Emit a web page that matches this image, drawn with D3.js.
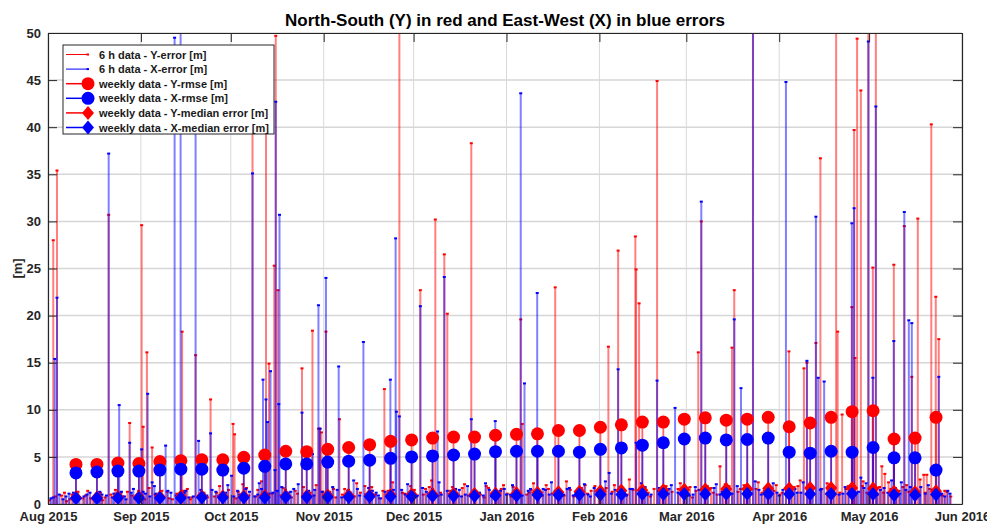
<!DOCTYPE html>
<html>
<head>
<meta charset="utf-8">
<script src="https://cdn.jsdelivr.net/npm/d3@7"></script>
<style>
body { margin: 0; background: #fff; }
text { font-family: "Liberation Sans", Arial, sans-serif; font-weight: bold; fill: #262626; }
</style>
</head>
<body>
<script>
var w = 987;
var h = 525;
var margin = {top: 33, right: 25, bottom: 21, left: 48};

// 6 h data, [days after 1 Aug 2015, error in m]
var yErr = [
  [1.75, 28.0], [3.0, 35.4], [20.25, 30.7], [27.25, 8.6], [31.25, 29.6], [31.75, 8.2], [33.0, 16.1],
  [34.75, 6.0], [44.75, 18.3], [49.25, 15.8], [54.25, 11.1], [61.75, 8.5], [62.25, 7.4], [68.25, 41],
  [72.75, 40], [73.75, 14.9], [75.5, 25.3], [76.0, 49.7], [76.75, 22.7], [84.75, 14.4], [88.25, 18.4],
  [90.25, 8.0], [90.75, 8.0], [91.25, 7.6], [92.75, 18.3], [97.25, 9.0], [112.25, 12.2], [117.25, 55],
  [124.25, 22.7], [129.25, 30.2], [132.25, 26.5], [133.25, 20.2], [141.25, 38.3], [157.75, 19.6],
  [158.25, 8.5], [169.25, 23.0], [187.0, 16.7], [190.25, 26.9], [196.0, 28.4], [196.25, 24.9],
  [197.25, 21.3], [203.25, 44.9], [217.0, 16.1], [218.0, 30.0], [224.25, 4.0], [228.25, 16.6],
  [229.0, 22.7], [235.25, 55], [247.25, 16.2], [252.25, 14.4], [253.25, 15.0], [256.25, 17.1],
  [257.75, 36.7], [263.0, 55], [263.5, 18.3], [265.0, 9.5], [268.25, 20.9], [269.0, 39.7],
  [269.25, 15.5], [270.0, 49.4], [271.25, 43.9], [273.75, 55], [275.25, 25.1], [276.25, 55],
  [278.25, 4.0], [279.25, 3.2], [282.25, 25.4], [285.75, 29.5], [288.25, 13.5], [290.25, 30.3],
  [292.25, 3.1], [293.25, 3.1], [294.75, 40.3], [296.25, 22.0], [297.25, 17.5],
  [0.5, 0.4], [4.5, 0.9], [6.25, 0.3], [8, 1.0], [11.5, 0.6], [13.25, 1.4], [15, 0.5], [17.5, 1.2],
  [19, 0.7], [22.5, 1.5], [25, 0.8], [26.5, 1.3], [29, 0.6], [33.75, 1.7], [36.5, 0.9], [38, 1.4],
  [41.5, 0.5], [43, 1.1], [46.5, 1.6], [48, 0.7], [52, 1.2], [55.5, 0.8], [57.25, 1.9], [59, 0.6],
  [63.5, 1.3], [65, 2.1], [67, 0.9], [70, 1.5], [71.25, 2.4], [74.75, 1.1], [78.5, 1.7], [80, 0.8],
  [82.5, 1.4], [86, 0.6], [87.5, 1.2], [89.5, 2.0], [94, 1.3], [96, 0.7], [99, 1.6], [101.5, 0.9],
  [103, 2.2], [106.5, 1.0], [108, 1.8], [110.5, 0.6], [113.5, 1.4], [115, 2.3], [119, 1.1], [121, 1.9],
  [123, 0.8], [126, 1.6], [128, 2.5], [131, 1.2], [135, 1.8], [137, 0.9], [139, 2.1], [143, 1.3],
  [145.5, 0.7], [147, 1.7], [150.5, 1.1], [152, 2.0], [154.5, 0.8], [156, 1.5], [160.5, 1.2], [162, 2.2],
  [165, 0.9], [167, 1.6], [171, 1.3], [173, 2.4], [175.5, 0.8], [178, 1.7], [180, 1.1], [182.5, 1.9],
  [185, 0.9], [189, 2.0], [192, 1.2], [194, 2.6], [199, 1.4], [201, 0.8], [205, 1.8], [207, 1.1],
  [211, 2.2], [213, 1.3], [215, 0.7], [220, 1.9], [222, 1.2], [226, 2.1], [231, 1.6], [233, 0.9],
  [237, 2.3], [239, 1.4], [241, 0.8], [243, 2.0], [245, 1.2], [249, 1.8], [251, 2.5], [255, 1.3],
  [260, 2.2], [262, 1.5], [267, 1.9], [272, 2.4], [274.5, 1.1], [277.5, 1.8], [280.5, 2.3], [284, 1.4],
  [286.5, 2.0], [289.5, 1.2], [291, 2.6], [295.5, 1.5], [298.5, 0.9], [300, 1.3],
  [2.5, 0.8], [5.5, 1.2], [7.25, 0.5], [10, 1.3], [12.5, 0.9], [14.25, 0.6], [16.25, 1.1], [18.25, 0.4],
  [21, 1.0], [23.5, 0.7], [24.25, 1.2], [28, 0.9], [30.25, 1.4], [32.25, 0.5], [35.75, 1.0], [37.25, 0.7],
  [39.75, 1.3], [40.5, 0.6], [44, 0.9], [45.25, 1.4], [47.5, 0.5], [50.75, 1.0], [53.25, 0.7], [56.25, 1.2],
  [58.25, 0.9], [60.25, 1.5], [62.75, 0.6], [64.25, 1.0], [66.25, 1.7], [69.25, 0.8], [72.25, 1.2],
  [77.75, 0.9], [79.25, 1.5], [81.25, 0.7], [83.25, 1.1], [85.25, 1.8], [87.25, 0.8], [91.75, 1.3],
  [93.25, 0.9], [95.25, 1.6], [98.25, 1.0], [100.25, 1.5], [102.25, 0.8], [104.25, 1.2], [105.75, 1.9],
  [109.25, 1.0], [111.75, 1.4], [114.75, 0.7], [118.25, 1.2], [120.25, 0.8], [122.25, 1.5], [125.25, 1.0],
  [127.25, 1.8], [130.25, 0.9], [134.25, 1.4], [136.25, 1.1], [138.25, 1.7], [140.25, 0.9], [142.25, 1.5],
  [144.25, 1.0], [146.25, 1.9], [148.25, 1.2], [149.75, 0.8], [151.25, 1.6], [153.25, 1.1], [155.25, 1.8],
  [159.75, 1.0], [161.25, 1.5], [163.75, 1.2], [166.25, 2.0], [168.25, 1.1], [170.25, 1.6], [172.25, 0.9],
  [174.25, 1.5], [177.25, 1.2], [179.25, 2.0], [181.25, 1.4], [183.75, 1.0], [186.25, 1.7], [188.25, 1.3],
  [191.25, 1.9], [193.25, 1.0], [195.25, 1.5], [198.25, 1.8], [200.25, 1.2], [202.25, 1.6], [204.25, 1.0],
  [206.25, 1.9], [208.25, 1.3], [210.25, 1.6], [212.25, 1.0], [214.25, 1.8], [216.25, 1.4], [219.25, 1.2],
  [221.25, 1.7], [223.25, 1.0], [225.25, 1.5], [227.25, 1.9], [230.25, 1.3], [232.25, 2.0], [234.25, 1.1],
  [236.25, 1.6], [238.25, 1.2], [240.25, 1.9], [242.25, 1.4], [244.25, 1.0], [246.25, 1.7], [248.25, 1.3],
  [250.25, 1.9], [254.25, 1.2], [258.25, 1.6], [259.75, 1.1], [261.25, 1.8], [264.25, 1.2], [266.25, 1.6],
  [268.75, 1.3], [271.75, 1.9], [273.25, 1.2], [276.75, 1.7], [278.75, 1.2], [281.25, 1.6], [283.25, 1.1],
  [285.25, 1.8], [287.25, 1.3], [289.25, 1.7], [292.75, 1.2], [294.25, 1.6], [297.75, 1.1], [299.25, 1.4],
  [301.25, 0.8]
];

var xErr = [
  [2.25, 15.4], [3.0, 21.9], [20.25, 37.2], [23.75, 10.5], [27.25, 6.5], [31.25, 5.8], [33.25, 11.7],
  [34.75, 2.3], [39.25, 6.2], [42.25, 49.5], [44.25, 55], [49.25, 44], [50.25, 6.7], [54.25, 7.5],
  [61.25, 3.0], [68.25, 35.1], [71.75, 13.2], [72.75, 11.1], [73.25, 8.7], [74.25, 14.1], [75.75, 3.6],
  [76.0, 42.7], [77.0, 10.6], [77.25, 30.7], [84.75, 9.7], [88.25, 5.3], [90.25, 21.1], [90.75, 8.0],
  [92.75, 24.0], [97.0, 14.6], [105.25, 17.2], [114.25, 13.2], [116.0, 28.2], [116.25, 9.8],
  [117.25, 9.3], [124.25, 21.0], [130.0, 7.7], [132.25, 24.1], [141.25, 9.0], [149.25, 8.8],
  [157.75, 43.6], [159.0, 12.8], [163.25, 22.4], [187.25, 3.3], [190.25, 14.3], [196.25, 6.5],
  [203.25, 13.1], [209.25, 10.2], [218.0, 32.1], [229.0, 19.6], [231.25, 12.3], [235.25, 55],
  [246.25, 44.8], [253.25, 15.2], [256.25, 30.5], [257.0, 13.4], [259.0, 13.0], [268.25, 29.8],
  [269.0, 31.4], [271.25, 2.8], [273.75, 49.1], [275.25, 13.4], [276.25, 42.2], [282.25, 17.3],
  [284.75, 2.3], [285.75, 31.0], [287.25, 19.5], [288.25, 19.2], [297.25, 13.5],
  [1, 0.6], [5, 0.5], [7, 1.1], [9.5, 0.4], [12, 0.8], [14, 1.2], [16.5, 0.6], [18, 1.0], [21.5, 0.7],
  [24.5, 1.3], [26, 0.5], [28.5, 1.6], [30, 0.8], [32.5, 1.1], [35.5, 1.9], [37, 0.6], [40, 1.4],
  [42.75, 0.9], [45.5, 1.2], [47, 0.7], [51, 1.5], [53, 0.9], [56, 1.3], [58, 0.6], [60, 2.0], [64, 1.0],
  [66, 1.6], [69, 0.8], [70.5, 2.2], [75, 1.2], [78, 1.8], [79.5, 0.7], [81, 1.3], [83.5, 2.1],
  [86.5, 0.9], [89, 1.5], [93.5, 1.1], [95, 1.8], [98, 0.7], [100, 1.4], [102, 2.5], [104, 0.9],
  [107, 1.7], [109.5, 1.2], [111, 0.6], [118, 1.5], [120, 2.1], [122, 0.9], [125, 1.7], [127, 1.1],
  [130.5, 2.3], [134, 1.0], [136, 1.6], [138, 0.8], [140, 1.9], [144, 1.2], [146, 2.2], [148, 0.8],
  [151, 1.4], [153, 1.0], [155, 2.0], [157, 1.1], [161, 1.6], [164, 0.9], [166, 1.5], [168, 2.3],
  [172, 1.0], [174, 1.7], [176.5, 1.2], [179, 2.1], [181, 0.8], [184, 1.5], [186, 2.4], [188, 1.1],
  [191, 1.8], [193, 0.9], [195, 1.6], [198, 2.2], [200, 1.0], [204, 1.7], [206, 1.2], [208, 2.0],
  [212, 1.3], [214, 0.9], [216, 1.8], [219, 1.1], [223, 2.1], [225, 1.3], [227, 0.8], [230, 1.9],
  [234, 1.2], [236, 2.4], [238, 1.0], [240, 1.6], [242, 2.2], [244, 0.9], [248, 1.7], [250, 1.2],
  [252, 2.3], [254.5, 1.1], [258, 1.6], [261, 2.0], [264, 1.0], [266, 1.8], [270.5, 1.3], [273, 2.2],
  [276.75, 1.0], [279, 1.7], [281.5, 2.5], [283, 1.2], [287.75, 1.8], [290.75, 0.9], [293.75, 2.0],
  [296.75, 1.4], [299.25, 0.8], [301, 1.1],
  [1.75, 0.7], [3.75, 1.0], [6, 0.8], [8.5, 1.2], [10.5, 0.6], [13, 1.0], [15.5, 0.8], [17.25, 1.3],
  [19.5, 0.9], [22, 1.1], [25.5, 0.8], [27.75, 1.2], [29.5, 0.9], [31.75, 1.3], [34, 0.8], [36, 1.1],
  [38.5, 0.7], [41, 1.2], [43.5, 0.9], [46, 1.4], [48.5, 0.8], [52, 1.1], [54.75, 1.5], [57, 0.9],
  [59.25, 1.2], [62, 0.8], [63.25, 1.4], [65.25, 0.9], [67.25, 1.3], [70, 1.0], [71.25, 1.6], [73.75, 1.1],
  [76.5, 1.4], [78.75, 0.9], [80.25, 1.2], [82, 1.6], [85.5, 1.0], [87, 1.4], [88.75, 0.9], [91.5, 1.3],
  [94.25, 1.0], [96.5, 1.5], [99, 0.9], [101, 1.2], [103.25, 1.6], [106, 1.0], [108.25, 1.4], [110.25, 0.9],
  [112.5, 1.3], [113.25, 0.7], [115.25, 1.5], [119.25, 1.0], [121.25, 1.4], [123.25, 0.9], [126.25, 1.3],
  [128.25, 1.6], [131.25, 1.0], [133.25, 1.4], [135.25, 0.9], [137.25, 1.5], [139.25, 1.0], [142.25, 1.3],
  [145.25, 0.9], [147.25, 1.5], [150.25, 1.1], [152.25, 1.6], [154.25, 1.0], [156.25, 1.3], [158.25, 0.9],
  [160.25, 1.4], [162.25, 1.1], [165.25, 1.6], [167.25, 1.0], [169.25, 1.4], [171.25, 1.1], [173.25, 1.6],
  [175.25, 0.9], [178.25, 1.4], [180.25, 1.0], [182.25, 1.7], [185.25, 1.2], [189.25, 1.5], [192.25, 1.0],
  [194.25, 1.6], [197.25, 1.2], [199.25, 1.8], [201.25, 1.0], [203.75, 1.4], [205.25, 1.1], [207.25, 1.6],
  [210.25, 1.2], [213.25, 1.7], [215.25, 1.0], [217.25, 1.5], [220.25, 1.2], [222.25, 1.7], [224.25, 1.0],
  [226.25, 1.4], [228.25, 1.1], [232.25, 1.6], [233.25, 1.0], [237.25, 1.5], [239.25, 1.1], [241.25, 1.7],
  [243.25, 1.2], [245.25, 1.5], [247.25, 1.0], [249.25, 1.6], [251.25, 1.2], [253.75, 1.7], [255.25, 1.1],
  [257.75, 1.5], [260.25, 1.2], [262.25, 1.8], [265.25, 1.1], [267.25, 1.6], [269.75, 1.2], [272.25, 1.7],
  [274.25, 1.1], [277.75, 1.5], [280.25, 1.2], [282.75, 1.7], [284.25, 1.1], [286.25, 1.5], [289.25, 1.2],
  [291.25, 1.8], [292.75, 1.1], [295.25, 1.5], [298.25, 1.1], [300.25, 1.4]
];

// weekly data, one value per week starting 10 Aug 2015
var yRmse = [4.2, 4.2, 4.35, 4.3, 4.5, 4.6, 4.7, 4.7, 4.95, 5.2, 5.6, 5.55, 5.8, 6.0, 6.3, 6.65,
  6.8, 7.0, 7.1, 7.1, 7.3, 7.4, 7.45, 7.8, 7.8, 8.15, 8.4, 8.7, 8.7, 9.0, 9.15, 8.9, 9.0, 9.2,
  8.2, 8.6, 9.2, 9.8, 9.9, 6.9, 7.0, 9.2];
var xRmse = [3.3, 3.4, 3.5, 3.5, 3.6, 3.7, 3.7, 3.6, 3.8, 4.0, 4.25, 4.25, 4.45, 4.55, 4.65, 4.85,
  5.0, 5.1, 5.2, 5.3, 5.55, 5.6, 5.6, 5.6, 5.5, 5.8, 5.95, 6.25, 6.5, 6.9, 7.0, 6.8, 6.85, 7.0,
  5.5, 5.4, 5.6, 5.5, 6.0, 4.9, 4.9, 3.6];
var yMed = [0.7, 0.7, 0.75, 0.75, 0.75, 0.8, 0.8, 0.8, 0.8, 0.85, 0.85, 0.85, 0.9, 0.9, 0.9, 0.95,
  1.0, 1.0, 1.05, 1.05, 1.1, 1.15, 1.2, 1.25, 1.3, 1.35, 1.4, 1.45, 1.45, 1.5, 1.55, 1.6, 1.6, 1.65,
  1.65, 1.7, 1.7, 1.7, 1.65, 1.3, 1.25, 1.35];
var xMed = [0.6, 0.6, 0.65, 0.65, 0.65, 0.65, 0.7, 0.7, 0.7, 0.7, 0.75, 0.75, 0.75, 0.75, 0.8, 0.8,
  0.8, 0.85, 0.85, 0.85, 0.9, 0.9, 0.95, 0.95, 1.0, 1.0, 1.0, 1.05, 1.05, 1.05, 1.05, 1.1, 1.1, 1.1,
  1.05, 1.05, 1.05, 1.1, 1.05, 0.95, 0.95, 1.0];

var yTicks = [0, 5, 10, 15, 20, 25, 30, 35, 40, 45, 50];
var legendLabels = ["6 h data - Y-error [m]", "6 h data - X-error [m]", "weekly data - Y-rmse [m]",
  "weekly data - X-rmse [m]", "weekly data - Y-median error [m]", "weekly data - X-median error [m]"];

var red = "#ff0000";
var blue = "#0000ff";
var t0 = Date.UTC(2015, 7, 1);
var week0 = Date.UTC(2015, 7, 10, 8);
var dayMs = 86400000;

function toDate(d) { return new Date(t0 + d * dayMs); }
function weekDate(i) { return new Date(week0 + i * 7 * dayMs); }

var iw = w - margin.left - margin.right;
var ih = h - margin.top - margin.bottom;

var x = d3.scaleUtc()
  .domain([new Date(Date.UTC(2015, 7, 1)), new Date(Date.UTC(2016, 5, 1))])
  .range([0, iw]);
var y = d3.scaleLinear().domain([0, 50]).range([ih, 0]);

var svg = d3.select("body").append("svg")
  .attr("width", w)
  .attr("height", h);

svg.append("text")
  .attr("x", margin.left + iw / 2)
  .attr("y", 26)
  .attr("text-anchor", "middle")
  .style("font-size", "17px")
  .style("fill", "#000")
  .text("North-South (Y) in red and East-West (X) in blue errors");

var g = svg.append("g").attr("transform", "translate(" + margin.left + "," + margin.top + ")");

g.append("clipPath").attr("id", "clip")
  .append("rect").attr("width", iw).attr("height", ih);

var months = x.ticks(d3.utcMonth.every(1));

// grid
g.selectAll("line.vgrid").data(months).enter().append("line")
  .attr("class", "vgrid")
  .attr("x1", function (d) { return x(d); })
  .attr("x2", function (d) { return x(d); })
  .attr("y1", 0).attr("y2", ih)
  .attr("stroke", "#d9d9d9").attr("stroke-width", 1);

g.selectAll("line.hgrid").data(yTicks).enter().append("line")
  .attr("class", "hgrid")
  .attr("x1", 0).attr("x2", iw)
  .attr("y1", function (d) { return y(d); })
  .attr("y2", function (d) { return y(d); })
  .attr("stroke", "#d6d6d6").attr("stroke-width", 1.5);

var plot = g.append("g").attr("clip-path", "url(#clip)");

function stems(data, xf, color, cls, width, op) {
  plot.selectAll("line." + cls).data(data).enter().append("line")
    .attr("class", cls)
    .attr("x1", xf).attr("x2", xf)
    .attr("y1", y(0))
    .attr("y2", function (d) { return y(d[1]); })
    .attr("stroke", color)
    .attr("stroke-width", width)
    .attr("stroke-opacity", op);
}

function sixHour(data, color, cls) {
  var xf = function (d) { return x(toDate(d[0])); };
  stems(data, xf, color, cls, 2, 0.5);
  plot.selectAll("rect." + cls).data(data).enter().append("rect")
    .attr("class", cls)
    .attr("x", function (d) { return xf(d) - 1.5; })
    .attr("y", function (d) { return y(d[1]) - 1; })
    .attr("width", 3).attr("height", 2)
    .attr("fill", color);
}

sixHour(yErr, red, "yerr");
sixHour(xErr, blue, "xerr");

var diamond = "M0,-7L6,0L0,7L-6,0Z";

function weekly(vals, color, cls, shape) {
  var data = vals.map(function (v, i) { return [i, v]; });
  var xf = function (d) { return x(weekDate(d[0])); };
  stems(data, xf, color, cls, 1.8, 0.6);
  if (shape === "circle") {
    plot.selectAll("circle." + cls).data(data).enter().append("circle")
      .attr("class", cls)
      .attr("cx", xf)
      .attr("cy", function (d) { return y(d[1]); })
      .attr("r", 6.5)
      .attr("fill", color);
  } else {
    plot.selectAll("path." + cls).data(data).enter().append("path")
      .attr("class", cls)
      .attr("d", diamond)
      .attr("transform", function (d) { return "translate(" + xf(d) + "," + y(d[1]) + ")"; })
      .attr("fill", color);
  }
}

weekly(yRmse, red, "yrmse", "circle");
weekly(xRmse, blue, "xrmse", "circle");
weekly(yMed, red, "ymed", "diamond");
weekly(xMed, blue, "xmed", "diamond");

// axes, ticks pointing inwards
var fmt = d3.utcFormat("%b %Y");
var axisCol = "#262626";

function styleAxis(sel) {
  sel.selectAll("path").attr("stroke", axisCol);
  sel.selectAll("line").attr("stroke", axisCol);
  sel.selectAll("text").style("font-size", "13px").style("fill", axisCol);
}

g.append("g").attr("transform", "translate(0," + ih + ")")
  .call(d3.axisBottom(x).tickValues(months).tickFormat(fmt).tickSize(-9).tickSizeOuter(0).tickPadding(8))
  .call(styleAxis);
g.append("g")
  .call(d3.axisTop(x).tickValues(months).tickFormat("").tickSize(-9).tickSizeOuter(0))
  .call(styleAxis);
g.append("g")
  .call(d3.axisLeft(y).tickValues(yTicks).tickSize(-9).tickSizeOuter(0).tickPadding(7))
  .call(styleAxis);
g.append("g").attr("transform", "translate(" + iw + ",0)")
  .call(d3.axisRight(y).tickValues(yTicks).tickFormat("").tickSize(-9).tickSizeOuter(0))
  .call(styleAxis);

g.selectAll(".domain").attr("stroke-width", 1.2);

svg.append("text")
  .attr("transform", "translate(22," + (margin.top + ih / 2) + ") rotate(-90)")
  .attr("text-anchor", "middle")
  .style("font-size", "13px")
  .text("[m]");

// legend
var lg = svg.append("g").attr("transform", "translate(63,45)");
lg.append("rect")
  .attr("width", 211).attr("height", 89)
  .attr("fill", "#fff")
  .attr("stroke", "#262626").attr("stroke-width", 1);

var legendColors = [red, blue, red, blue, red, blue];
var legendShapes = ["dot", "dot", "circle", "circle", "diamond", "diamond"];

var rows = lg.selectAll("g.row").data(legendLabels).enter().append("g")
  .attr("class", "row")
  .attr("transform", function (d, i) { return "translate(0," + (9.5 + i * 14.6) + ")"; });

rows.append("line")
  .attr("x1", 3).attr("x2", 25)
  .attr("stroke", function (d, i) { return legendColors[i]; })
  .attr("stroke-width", function (d, i) { return i < 2 ? 1 : 1.5; });

rows.each(function (d, i) {
  var r = d3.select(this);
  if (legendShapes[i] === "dot") {
    r.append("rect").attr("x", 23.5).attr("y", -1).attr("width", 2.5).attr("height", 2)
      .attr("fill", legendColors[i]);
  } else if (legendShapes[i] === "circle") {
    r.append("circle").attr("cx", 25).attr("r", 6.5).attr("fill", legendColors[i]);
  } else {
    r.append("path").attr("d", diamond).attr("transform", "translate(25,0)")
      .attr("fill", legendColors[i]);
  }
});

rows.append("text")
  .attr("x", 36).attr("y", 4)
  .style("font-size", "11px")
  .style("fill", "#1a1a1a")
  .text(function (d) { return d; });
</script>
</body>
</html>
